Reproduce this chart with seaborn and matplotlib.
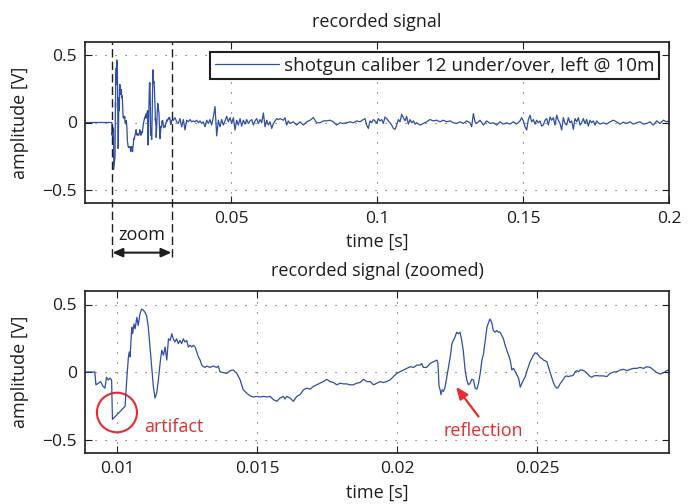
import numpy as np
import pandas as pd
import matplotlib
matplotlib.use("Agg")
import matplotlib.pyplot as plt
import seaborn as sns
from matplotlib.patches import Ellipse

# ---------------- data (time in ms, amplitude in V) ----------------
# leading silence + first burst (incl. artifact)
t_burst1 = [0.0, 9.20, 9.24, 9.33, 9.41, 9.48, 9.56, 9.62, 9.68, 9.74,
            9.80, 9.83, 10.28, 10.34, 10.40, 10.43, 10.46, 10.52, 10.55, 10.60,
            10.64, 10.70, 10.75, 10.81, 10.87, 10.93, 10.99, 11.05, 11.11, 11.17,
            11.23, 11.29, 11.35, 11.41, 11.47, 11.53, 11.59, 11.65, 11.71, 11.77,
            11.83, 11.89, 11.95, 12.00, 12.06, 12.12, 12.18, 12.24, 12.30, 12.36,
            12.42, 12.48, 12.54, 12.60, 12.66, 12.72, 12.78, 12.84, 12.90, 12.96,
            13.02, 13.08, 13.14, 13.20, 13.31, 13.43, 13.55, 13.61, 13.67, 13.79,
            13.91, 14.03, 14.15, 14.27, 14.39, 14.50, 14.62, 14.74, 14.86, 14.98,
            15.10, 15.22, 15.34]
v_burst1 = [0.0, 0.0, -0.095, -0.083, -0.071, -0.102, -0.120, -0.039, -0.059, -0.046,
            -0.059, -0.351, -0.254, -0.059, 0.112, 0.149, 0.112, 0.332, 0.283, 0.356,
            0.320, 0.405, 0.344, 0.429, 0.466, 0.459, 0.442, 0.417, 0.332, 0.185,
            0.039, -0.107, -0.193, -0.156, -0.059, 0.063, 0.161, 0.124, 0.185, 0.088,
            0.246, 0.234, 0.283, 0.246, 0.222, 0.246, 0.210, 0.234, 0.210, 0.246,
            0.222, 0.234, 0.185, 0.198, 0.185, 0.198, 0.185, 0.149, 0.112, 0.088,
            0.051, 0.039, 0.034, 0.044, 0.034, 0.044, 0.034, 0.044, 0.002, -0.005,
            -0.010, 0.010, 0.015, -0.010, -0.059, -0.132, -0.156, -0.176, -0.185, -0.181,
            -0.185, -0.181, -0.185]

# slow drift + start of reflection
t_mid = [15.46, 15.58, 15.70, 15.81, 15.93, 15.99, 16.05, 16.17, 16.29, 16.41,
         16.53, 16.65, 16.77, 16.89, 17.00, 17.12, 17.24, 17.36, 17.48, 17.60,
         17.72, 17.84, 17.96, 18.08, 18.19, 18.31, 18.43, 18.55, 18.67, 18.79,
         18.91, 19.03, 19.15, 19.27, 19.39, 19.50, 19.62, 19.74, 19.86, 19.98,
         20.10, 20.22, 20.34, 20.46, 20.58, 20.70, 20.81, 20.87, 20.93, 21.05,
         21.17, 21.29, 21.41, 21.45, 21.49, 21.53, 21.56, 21.60, 21.65, 21.71,
         21.77, 21.83, 21.89, 21.95, 22.00, 22.06, 22.12, 22.18, 22.24]
v_mid = [-0.181, -0.205, -0.217, -0.193, -0.181, -0.200, -0.181, -0.193, -0.217, -0.181,
         -0.168, -0.132, -0.120, -0.127, -0.107, -0.095, -0.083, -0.071, -0.054, -0.071,
         -0.078, -0.095, -0.083, -0.088, -0.088, -0.095, -0.095, -0.083, -0.078, -0.054,
         -0.071, -0.071, -0.095, -0.083, -0.071, -0.078, -0.071, -0.059, -0.034, -0.010,
         0.002, 0.015, 0.027, 0.039, 0.034, 0.051, 0.051, 0.063, 0.034, 0.034,
         0.063, 0.076, 0.088, 0.063, -0.107, -0.132, -0.168, -0.132, -0.144, -0.107,
         -0.034, 0.039, 0.112, 0.210, 0.234, 0.259, 0.295, 0.283, 0.295]

# reflection burst and decay
t_refl = [22.30, 22.36, 22.42, 22.48, 22.54, 22.60, 22.66, 22.72, 22.78, 22.84,
          22.90, 22.96, 23.02, 23.08, 23.14, 23.20, 23.26, 23.31, 23.37, 23.43,
          23.49, 23.55, 23.61, 23.67, 23.73, 23.79, 23.85, 23.91, 23.97, 24.03,
          24.09, 24.15, 24.21, 24.27, 24.33, 24.39, 24.45, 24.51, 24.57, 24.62,
          24.68, 24.74, 24.80, 24.86, 24.92, 24.98, 25.04, 25.10, 25.16, 25.22,
          25.28, 25.34, 25.40, 25.46, 25.52, 25.58, 25.64, 25.70, 25.75, 25.81,
          25.87, 25.93, 25.99, 26.05, 26.11, 26.17, 26.23, 26.29, 26.35, 26.41,
          26.47, 26.53, 26.59, 26.65, 26.71, 26.77, 26.83, 26.89, 26.95, 27.01,
          27.12, 27.24, 27.36, 27.48, 27.54, 27.60, 27.72, 27.84, 27.96, 28.08,
          28.20, 28.31, 28.43, 28.55, 28.67, 28.79, 28.91, 29.03, 29.15, 29.27,
          29.39, 29.51, 29.62, 29.68]
v_refl = [0.234, 0.149, 0.015, -0.059, -0.095, -0.083, -0.054, -0.059, -0.120, -0.127,
          -0.083, -0.010, 0.088, 0.137, 0.234, 0.332, 0.368, 0.393, 0.368, 0.307,
          0.295, 0.307, 0.295, 0.295, 0.271, 0.246, 0.198, 0.161, 0.124, 0.088,
          0.015, 0.027, 0.002, -0.022, -0.046, -0.112, -0.083, -0.059, -0.034, 0.002,
          0.039, 0.076, 0.100, 0.124, 0.142, 0.137, 0.124, 0.107, 0.100, 0.088,
          0.083, 0.076, 0.034, -0.005, -0.046, -0.083, -0.107, -0.120, -0.112, -0.088,
          -0.071, -0.054, -0.034, -0.029, -0.034, -0.029, -0.029, -0.022, 0.002, 0.010,
          0.002, 0.015, 0.015, 0.010, 0.002, -0.010, -0.022, -0.034, -0.039, -0.029,
          -0.027, -0.029, -0.029, -0.034, -0.022, -0.010, 0.000, 0.002, 0.015, 0.020,
          0.010, 0.020, 0.027, 0.027, 0.034, 0.027, 0.039, 0.034, 0.015, -0.005,
          -0.015, -0.005, 0.010, 0.015]

# noise tail, part 1
t_tail1 = [30.25, 30.82, 31.39, 31.96, 32.53, 33.10, 33.68, 34.25, 34.82, 35.39,
           35.96, 36.53, 37.10, 37.67, 38.24, 38.82, 39.39, 39.96, 40.53, 41.10,
           41.67, 42.24, 42.81, 43.38, 43.95, 44.53, 45.10, 45.67, 46.24, 46.81,
           47.38, 47.95, 48.52, 49.09, 49.67, 50.24, 50.81, 51.38, 51.95, 52.52,
           53.09, 53.66, 54.23, 54.81, 55.38, 55.95, 56.52, 57.09, 57.66, 58.23,
           58.80, 59.37, 59.95, 60.52, 61.09, 61.66, 62.23, 62.80, 63.37, 63.94,
           64.51, 65.09, 65.66, 66.23, 66.80]
v_tail1 = [0.017, 0.036, 0.005, -0.007, 0.029, -0.032, 0.022, -0.056, 0.017, 0.005,
           0.022, 0.005, 0.012, 0.005, 0.017, -0.002, 0.012, -0.007, 0.005, -0.032,
           0.017, -0.007, 0.022, -0.019, 0.041, 0.119, -0.100, 0.017, -0.032, 0.022,
           -0.019, 0.012, 0.046, 0.005, 0.036, -0.007, 0.036, -0.056, 0.017, -0.019,
           0.029, -0.027, 0.017, -0.012, 0.022, -0.007, 0.012, 0.022, -0.019, 0.012,
           0.029, -0.007, 0.022, -0.002, 0.071, -0.032, 0.017, -0.019, 0.005, -0.044,
           -0.007, 0.012, 0.029, 0.022, 0.029]

# noise tail, part 2
t_tail2 = [67.93, 68.50, 69.07, 69.64, 70.21, 71.35, 72.49, 73.63, 74.78, 75.92,
           77.06, 78.20, 79.34, 80.48, 81.63, 82.77, 83.91, 85.05, 86.19, 87.33,
           88.47, 89.62, 90.76, 91.90, 93.04, 94.18, 95.32, 95.89, 96.47, 97.04,
           97.61, 98.18, 98.75, 99.32, 99.89, 100.46, 101.03, 101.60, 102.17, 102.74,
           103.31, 103.89, 104.46, 105.03, 105.60, 106.17, 106.74, 107.31, 107.88, 108.45,
           109.02, 109.59, 110.16, 110.73, 111.31, 111.88, 112.45, 113.02, 113.59, 114.73,
           115.87, 117.01, 118.16, 119.30, 120.44, 121.58, 122.72, 123.86, 125.00, 126.15,
           127.29, 128.43, 129.57, 130.71, 131.85, 132.42, 133.00, 133.57, 134.14, 135.28]
v_tail2 = [0.017, 0.036, -0.019, 0.012, -0.007, 0.005, -0.019, 0.005, -0.019, 0.005,
           0.017, 0.036, -0.002, -0.002, 0.012, 0.012, 0.017, 0.005, -0.019, -0.002,
           -0.007, -0.002, 0.005, -0.002, 0.012, 0.005, 0.022, 0.029, -0.019, -0.044,
           0.012, -0.002, 0.022, 0.012, -0.007, 0.029, 0.012, 0.022, -0.007, 0.041,
           0.029, 0.012, -0.002, -0.019, -0.044, -0.051, -0.019, 0.022, 0.005, 0.061,
           0.036, 0.012, 0.046, -0.012, 0.022, -0.002, 0.012, -0.012, -0.002, -0.019,
           -0.007, 0.005, 0.022, 0.012, 0.017, 0.005, 0.017, 0.005, 0.012, -0.002,
           -0.007, 0.005, -0.007, 0.012, -0.002, -0.032, 0.066, 0.005, -0.007, 0.017]

# noise tail, part 3
t_tail3 = [136.42, 137.56, 138.70, 139.84, 140.98, 142.12, 143.27, 144.41, 145.55, 146.69,
           147.83, 148.97, 149.54, 150.12, 150.69, 151.26, 151.83, 152.40, 152.97, 153.54,
           154.11, 154.68, 155.25, 155.82, 156.39, 156.96, 157.54, 158.11, 158.68, 159.25,
           159.82, 160.39, 160.96, 161.53, 162.10, 162.67, 163.24, 163.81, 164.38, 164.96,
           165.53, 166.10, 166.67, 167.24, 167.81, 168.38, 168.95, 169.52, 170.09, 170.66,
           171.23, 171.80, 172.38, 172.95, 173.52, 174.09, 174.66, 175.23, 175.80, 176.37,
           177.51, 178.65, 179.80, 180.94, 182.08, 183.22, 184.36, 185.50, 186.65, 187.79,
           188.93, 190.07, 191.21, 192.35, 193.49, 194.64, 195.78, 196.92, 198.06, 199.20,
           200.00]
v_tail3 = [-0.019, 0.012, -0.007, -0.002, -0.019, 0.005, -0.012, -0.002, -0.012, 0.005,
           -0.012, 0.012, 0.036, 0.012, -0.032, -0.056, 0.022, 0.054, 0.005, 0.022,
           -0.012, 0.017, -0.002, 0.012, -0.027, -0.019, 0.017, 0.029, -0.019, 0.041,
           0.017, 0.036, -0.019, 0.054, 0.017, -0.007, -0.056, 0.036, -0.007, -0.019,
           0.036, -0.002, 0.012, -0.051, 0.029, 0.005, 0.036, -0.019, -0.002, 0.029,
           -0.007, 0.022, -0.027, 0.017, -0.002, 0.012, -0.019, 0.012, -0.002, -0.012,
           -0.002, -0.012, 0.005, 0.017, 0.005, -0.012, 0.002, -0.007, 0.005, -0.012,
           -0.002, 0.005, -0.012, -0.007, 0.005, -0.019, 0.012, -0.007, 0.017, 0.005,
           0.012]

legend_label = "shotgun caliber 12 under/over, left @ 10m"
top_xticks = [0.05, 0.1, 0.15, 0.2]
top_xticklabels = ["0.05", "0.1", "0.15", "0.2"]
bot_xticks = [0.01, 0.015, 0.02, 0.025]
bot_xticklabels = ["0.01", "0.015", "0.02", "0.025"]
yticks = [-0.5, 0, 0.5]
yticklabels = ["\u22120.5", "0", "0.5"]
zoom_range = [0.0091, 0.0299]

# ---------------- styling ----------------
sns.set_theme(style="ticks")
plt.rcParams['font.family'] = ['Open Sans', 'DejaVu Sans']

BLUE = '#2E4EA8'
RED = '#EA2A2F'
INK = '#1e1e1e'

t_all = np.concatenate([t_burst1, t_mid, t_refl, t_tail1, t_tail2, t_tail3]) / 1000.0
v_all = np.concatenate([v_burst1, v_mid, v_refl, v_tail1, v_tail2, v_tail3])
df = pd.DataFrame({"time": t_all, "amp": v_all})

fig = plt.figure(figsize=(6.89, 5.04), dpi=100)
W, H = 689, 504
ax1 = fig.add_axes([85 / W, 1 - 203 / H, 584 / W, 161 / H])
ax2 = fig.add_axes([85 / W, 1 - 453 / H, 584 / W, 162 / H])

sns.lineplot(data=df, x="time", y="amp", ax=ax1, color=BLUE, linewidth=0.9,
             estimator=None, sort=False, label=legend_label)
sns.lineplot(data=df, x="time", y="amp", ax=ax2, color=BLUE, linewidth=0.9,
             estimator=None, sort=False, legend=False)

ax1.set_xlim(0, 0.2)
ax2.set_xlim(0.00885, 0.0297)
ax1.set_xticks(top_xticks)
ax1.set_xticklabels(top_xticklabels)
ax2.set_xticks(bot_xticks)
ax2.set_xticklabels(bot_xticklabels)

FS = 13
for ax in (ax1, ax2):
    ax.set_ylim(-0.6, 0.6)
    ax.set_yticks(yticks)
    ax.set_yticklabels(yticklabels)
    ax.tick_params(direction='in', top=True, right=True, length=5, width=0.8,
                   labelsize=12.6, pad=6, colors=INK)
    for s in ax.spines.values():
        s.set_linewidth(1.2)
        s.set_color(INK)
    ax.grid(True, color='#555555', linestyle=(0, (1, 8)), linewidth=0.8)
    ax.set_ylabel("amplitude [V]", fontsize=FS, color=INK)
    ax.yaxis.set_label_coords(-0.096, 0.5)
    ax.set_xlabel("time [s]", fontsize=FS, color=INK)

ax1.xaxis.set_label_coords(0.5, -0.185)
ax2.xaxis.set_label_coords(0.5, -0.19)
ax1.set_title("recorded signal", fontsize=FS, pad=11, color=INK)
ax2.set_title("recorded signal (zoomed)", fontsize=FS, pad=11, color=INK)

leg = ax1.legend(loc='upper right', bbox_to_anchor=(0.983, 0.938), borderaxespad=0,
                 frameon=True, fancybox=False, framealpha=1, edgecolor=INK,
                 fontsize=13.6, handlelength=3.4, handletextpad=0.25, borderpad=0.25)
leg.get_frame().set_linewidth(1.5)
for txt in leg.get_texts():
    txt.set_color(INK)

# zoom markers on the top plot
for xz in zoom_range:
    ax1.plot([xz, xz], [-1.005, 0.6], color=INK, lw=1.0, ls=(0, (6, 3)), clip_on=False)
ax1.annotate('', xy=(0.0296, -0.97), xytext=(0.0094, -0.97), xycoords='data',
             arrowprops=dict(arrowstyle='<|-|>,head_length=0.5,head_width=0.22',
                             color=INK, lw=1.5, shrinkA=0, shrinkB=0),
             annotation_clip=False)
ax1.text(0.0195, -0.84, 'zoom', ha='center', va='center', fontsize=FS,
         color=INK, clip_on=False)

# annotations on the zoomed plot
ax2.add_patch(Ellipse((0.00999, -0.30), width=0.00143, height=0.293, fill=False,
                      edgecolor=RED, lw=1.5, clip_on=False))
ax2.text(0.01096, -0.447, 'artifact', color=RED, fontsize=13, ha='left', va='baseline')
ax2.text(0.02306, -0.474, 'reflection', color=RED, fontsize=13, ha='center', va='baseline')
ax2.annotate('', xy=(0.02210, -0.11), xytext=(0.0229, -0.33),
             arrowprops=dict(arrowstyle='-|>,head_length=0.6,head_width=0.25',
                             color=RED, lw=1.6, shrinkA=0, shrinkB=0))

fig.savefig("out.png", dpi=100)
